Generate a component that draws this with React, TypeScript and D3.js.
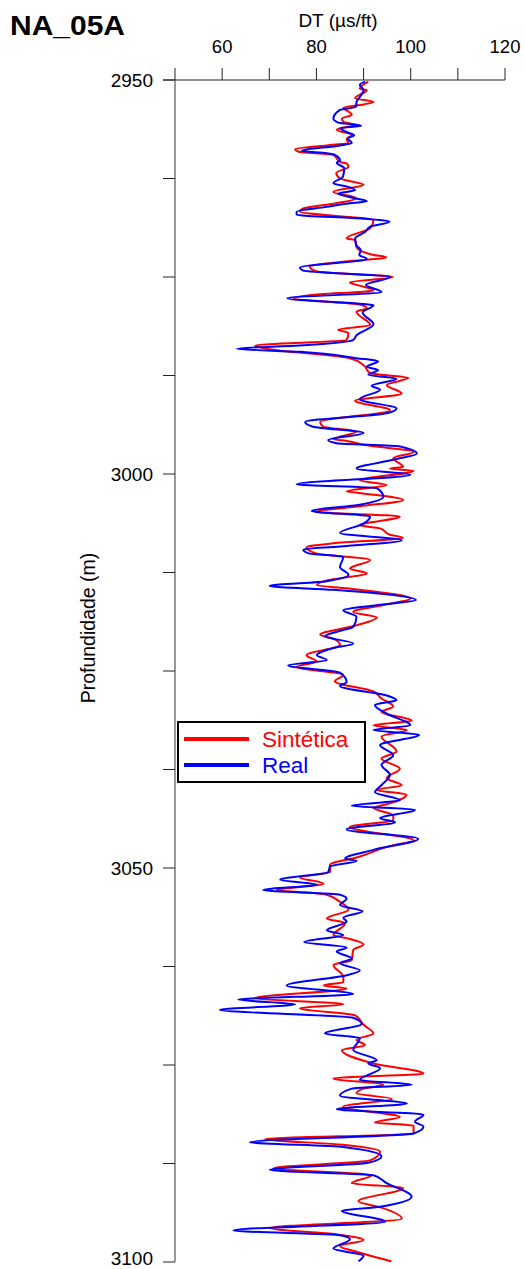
import * as d3 from 'd3';
import React from 'react';

// depth (m) / DT (µs/ft)
const realDepth = [2950.2, 2950.6, 2951.3, 2951.9, 2952.8, 2953.4, 2953.8, 2954.9, 2955.4, 2955.8, 2956.1, 2956.6, 2957.0, 2957.4, 2958.0, 2958.3, 2959.0, 2959.3, 2959.5, 2960.2, 2960.5, 2961.2, 2962.3, 2963.1, 2963.5, 2964.0, 2964.4, 2965.0, 2965.4, 2965.7, 2966.1, 2966.7, 2967.1, 2967.6, 2968.0, 2968.6, 2969.3, 2970.1, 2971.0, 2971.6, 2972.2, 2972.7, 2973.8, 2974.2, 2975.0, 2976.0, 2976.9, 2977.7, 2978.5, 2978.6, 2979.5,
  2981.0, 2982.4, 2983.0, 2983.7, 2984.1, 2984.5, 2985.3, 2985.7, 2986.4, 2986.8, 2987.4, 2987.9, 2988.8, 2989.3, 2990.5, 2991.7, 2992.3, 2993.4, 2994.0, 2994.8, 2995.7, 2996.1, 2996.5, 2997.4, 2998.2, 2999.3, 3000.1, 3001.3, 3001.8, 3002.9, 3003.9, 3004.7, 3005.4, 3006.3, 3007.5, 3008.4, 3009.2, 3009.6, 3010.1,
  3010.5, 3011.8, 3012.8, 3013.6, 3014.2, 3014.7, 3015.1, 3016.0, 3016.6, 3017.3, 3018.1, 3019.4, 3019.8, 3020.6, 3021.5, 3022.1, 3023.0, 3023.6, 3024.3, 3025.2, 3026.4, 3026.9, 3028.1, 3028.7, 3029.3, 3030.4, 3031.9, 3032.5, 3033.1, 3034.4, 3035.7, 3036.9, 3038.2, 3039.5, 3040.4,
  3041.4, 3042.1, 3042.6, 3043.7, 3044.2, 3045.1, 3046.3, 3047.7, 3048.8, 3049.1, 3049.8, 3050.5, 3051.5, 3052.1, 3052.8, 3053.4, 3053.9, 3054.7, 3055.5, 3056.3, 3056.8, 3057.9, 3058.5, 3059.4, 3060.1, 3060.6, 3061.5, 3062.1, 3063.0, 3063.6, 3064.9, 3066.0, 3066.7, 3067.3, 3068.0, 3069.0, 3069.8, 3071.0,
  3071.6, 3073.1, 3074.4, 3074.8, 3075.4, 3076.9, 3077.5, 3078.0, 3078.9, 3079.9, 3080.6, 3081.3, 3082.2, 3082.8, 3083.7, 3084.8, 3085.4, 3086.6, 3087.4, 3088.3, 3089.0, 3090.0, 3091.7, 3093.0, 3093.5, 3094.9, 3096.0, 3096.6, 3097.1, 3098.3, 3099.2, 3099.9];
const realDT = [90.3, 89.2, 90.0, 89.5, 88.5, 88.4, 85.0, 83.6, 84.6, 89.5, 85.0, 86.4, 88.0, 86.6, 87.5, 85.0, 76.9, 82.2, 83.9, 85.0, 84.3, 85.9, 85.6, 83.6, 86.4, 88.2, 84.6, 88.2, 90.7, 86.4, 82.2, 75.8, 75.8, 90.0, 95.5, 91.4, 90.3, 88.2, 88.5, 89.4, 89.1, 90.7, 76.5, 77.2, 95.6, 90.5, 93.8, 73.8, 91.0, 92.1, 89.8,
  92.1, 88.5, 87.8, 76.5, 63.1, 76.5, 88.5, 93.1, 90.7, 93.1, 91.0, 97.0, 91.7, 93.5, 89.2, 97.0, 94.9, 77.6, 79.3, 90.0, 82.5, 84.3, 97.7, 101.3, 96.3, 88.5, 99.9, 75.8, 92.8, 94.2, 89.2, 79.0, 91.4, 90.0, 85.0, 98.1, 85.0, 77.2, 78.6,
  85.7, 85.0, 86.8, 82.2, 70.1, 83.6, 92.1, 101.1, 93.5, 85.7, 88.5, 87.8, 85.7, 81.8, 87.8, 83.6, 80.1, 82.2, 74.0, 85.0, 86.4, 85.0, 94.9, 97.0, 92.4, 94.9, 99.9, 92.1, 101.8, 93.5, 96.3, 93.8, 95.6, 93.8, 92.4,
  97.7, 87.5, 100.9, 93.5, 96.7, 86.4, 101.6, 92.1, 86.1, 88.5, 82.9, 82.5, 72.3, 80.1, 68.7, 85.0, 86.4, 85.0, 89.8, 85.7, 86.4, 82.2, 85.7, 77.4, 86.4, 84.3, 87.5, 85.0, 89.2, 86.4, 73.7, 87.8, 63.4, 75.5, 59.5, 87.8, 89.6, 81.8,
  89.2, 87.8, 92.8, 91.0, 93.5, 89.2, 100.2, 87.5, 85.0, 99.2, 84.3, 102.7, 100.9, 102.7, 100.6, 65.9, 85.7, 93.8, 91.0, 70.1, 92.1, 94.9, 100.2, 93.5, 85.4, 94.6, 62.4, 85.0, 87.1, 83.6, 90.0, 88.9];

const sintDepth = [2950.2, 2951.1, 2951.3, 2952.3, 2952.8, 2953.1, 2953.5, 2954.4, 2954.9, 2955.3, 2955.7, 2956.3, 2957.0, 2957.5, 2958.0, 2958.3, 2958.8, 2959.1, 2959.5, 2960.4, 2960.6, 2961.0, 2961.8, 2962.5, 2963.3, 2964.2, 2965.0, 2965.7, 2966.3, 2966.7, 2967.8, 2968.8, 2970.1, 2970.3, 2971.2, 2972.2, 2972.5, 2973.1, 2973.7, 2974.3, 2975.0, 2975.7, 2976.0, 2976.7, 2977.3, 2977.7, 2978.5, 2979.0, 2979.4,
  2981.1, 2981.7, 2982.1, 2983.0, 2983.7, 2984.1, 2985.3, 2986.2, 2987.2, 2987.8, 2988.7, 2989.8, 2990.7, 2991.9, 2993.4, 2994.0, 2994.6, 2995.6, 2995.8, 2996.3, 2997.2, 2998.0, 2999.1, 2999.3, 2999.6, 3000.8, 3001.4, 3002.2, 3002.4, 3003.3, 3004.1, 3004.8, 3005.4, 3006.5, 3006.9, 3007.7, 3008.1, 3008.8, 3009.3, 3010.1,
  3010.9, 3012.0, 3012.6, 3013.5, 3014.1, 3014.5, 3015.8, 3016.6, 3017.5, 3018.2, 3019.2, 3020.4, 3020.9, 3021.7, 3023.0, 3023.8, 3024.5, 3025.5, 3026.3, 3027.6, 3028.5, 3029.5, 3030.2, 3031.3, 3031.9, 3032.5, 3033.3, 3035.2, 3036.1, 3037.4, 3038.6, 3039.5, 3040.1,
  3040.7, 3041.8, 3042.4, 3043.3, 3043.9, 3044.8, 3046.5, 3047.1, 3048.6, 3049.6, 3050.5, 3051.2, 3052.0, 3052.8, 3053.3, 3054.3, 3055.3, 3056.4, 3057.0, 3058.5, 3058.9, 3059.7, 3060.4, 3061.7, 3062.3, 3063.8, 3064.5, 3064.9, 3065.3, 3066.5, 3067.3, 3067.8, 3068.7, 3069.9, 3071.0,
  3071.8, 3072.5, 3073.1, 3074.8, 3076.1, 3076.7, 3077.5, 3078.0, 3078.6, 3079.3, 3080.3, 3081.6, 3082.3, 3082.7, 3083.7, 3084.4, 3085.1, 3086.0, 3087.1, 3088.1, 3089.0, 3090.0, 3090.6, 3092.3, 3093.1, 3094.5, 3095.7, 3096.5, 3097.2, 3098.0, 3098.7, 3099.9];
const sintDT = [91.0, 89.2, 90.7, 88.2, 92.1, 90.0, 85.7, 87.5, 85.4, 85.7, 88.2, 84.3, 87.5, 86.4, 86.8, 82.2, 75.5, 76.2, 83.6, 85.0, 86.4, 86.8, 84.2, 85.0, 90.0, 83.6, 88.5, 83.6, 77.2, 76.5, 92.1, 91.4, 86.4, 88.2, 88.5, 92.1, 94.8, 85.0, 78.6, 80.1, 96.2, 87.1, 88.5, 92.1, 78.6, 75.2, 89.2, 90.7, 88.5,
  91.4, 84.6, 86.8, 86.4, 67.0, 69.4, 87.1, 90.0, 91.4, 99.5, 94.9, 98.1, 88.2, 95.6, 80.8, 81.5, 88.5, 83.6, 86.4, 90.0, 100.6, 96.3, 98.4, 95.6, 100.6, 89.2, 94.9, 86.4, 88.9, 98.4, 89.2, 80.1, 97.7, 89.2, 93.5, 95.6, 98.4, 83.6, 77.9, 80.1,
  91.4, 87.1, 90.7, 82.2, 80.1, 86.4, 99.9, 94.5, 87.8, 92.8, 88.5, 80.8, 83.6, 85.0, 77.9, 80.1, 75.8, 85.7, 83.9, 92.1, 93.8, 96.3, 93.8, 100.2, 92.1, 99.2, 93.8, 97.0, 93.8, 97.7, 94.9, 98.1, 92.8,
  99.1, 95.6, 92.1, 96.3, 96.3, 87.1, 100.6, 96.3, 88.9, 82.9, 82.9, 76.5, 81.5, 71.6, 81.5, 85.0, 86.8, 82.2, 86.1, 83.6, 86.4, 90.0, 87.8, 87.5, 83.6, 85.7, 85.7, 81.5, 86.4, 67.0, 85.7, 76.5, 88.2, 90.0, 92.1,
  88.5, 90.3, 85.4, 92.1, 102.7, 83.6, 94.2, 90.0, 88.5, 96.0, 85.7, 97.7, 92.4, 100.6, 100.6, 69.1, 85.0, 93.5, 91.4, 70.9, 91.7, 87.5, 98.4, 88.9, 93.8, 98.1, 70.2, 84.3, 90.0, 85.0, 88.5, 95.9];

const dtTicks = [50, 60, 70, 80, 90, 100, 110, 120];
const dtLabels = [60, 80, 100, 120];
const depthTicks = [2950, 2962.5, 2975, 2987.5, 3000, 3012.5, 3025, 3037.5, 3050, 3062.5, 3075, 3087.5, 3100];
const depthLabels = [2950, 3000, 3050, 3100];

const W = 525;
const H = 1269;
const FONT = 'Arial, "Liberation Sans", Helvetica, sans-serif';

export default function App() {
  const x = d3.scaleLinear().domain([50, 120]).range([175, 505]);
  const y = d3.scaleLinear().domain([2950, 3100]).range([80, 1262]);

  const line = d3.line<[number, number]>()
    .x((d) => x(d[1]))
    .y((d) => y(d[0]))
    .curve(d3.curveMonotoneY);

  const realPts = realDepth.map((d, i) => [d, realDT[i]] as [number, number]);
  const sintPts = sintDepth.map((d, i) => [d, sintDT[i]] as [number, number]);

  return (
    <svg width={W} height={H} style={{ position: 'absolute', left: 0, top: 0, background: '#fff' }}
      fontFamily={FONT}>
      <text x={10} y={35} fontSize={28} fontWeight="bold" textLength={115} lengthAdjust="spacingAndGlyphs">NA_05A</text>
      <text x={338} y={27} fontSize={19} textAnchor="middle">DT (µs/ft)</text>

      {/* top axis */}
      <line x1={163} x2={x(120)} y1={y(2950)} y2={y(2950)} stroke="#222" strokeWidth={1} />
      {dtTicks.map((t) => (
        <line key={'xt' + t} x1={x(t)} x2={x(t)} y1={y(2950) - 12} y2={y(2950)} stroke="#222" strokeWidth={1} />
      ))}
      {dtLabels.map((t) => (
        <text key={'xl' + t} x={x(t)} y={53} fontSize={18.5} textAnchor="middle">{t}</text>
      ))}

      {/* left axis */}
      <line x1={x(50)} x2={x(50)} y1={y(2950)} y2={y(3100)} stroke="#555" strokeWidth={1.2} />
      {depthTicks.map((t) => (
        <line key={'yt' + t} x1={163} x2={x(50)} y1={y(t)} y2={y(t)} stroke="#222" strokeWidth={1} />
      ))}
      {depthLabels.map((t) => (
        <text key={'yl' + t} x={153} y={Math.min(y(t) + 6.5, 1265)} fontSize={19} textAnchor="end">{t}</text>
      ))}
      <text transform={`translate(95,${628}) rotate(-90)`} fontSize={19.5} textAnchor="middle">Profundidade (m)</text>

      {/* curves */}
      <path d={line(sintPts) || ''} fill="none" stroke="#ff0000" strokeWidth={2} strokeLinejoin="round" />
      <path d={line(realPts) || ''} fill="none" stroke="#0000ff" strokeWidth={2} strokeLinejoin="round" />

      {/* legend */}
      <rect x={178} y={722} width={187} height={60} fill="#fff" stroke="#000" strokeWidth={2} />
      <line x1={184} x2={249} y1={739} y2={739} stroke="#ff0000" strokeWidth={4} />
      <text x={262} y={747} fontSize={22.5} fill="#ff0000">Sintética</text>
      <line x1={184} x2={249} y1={765} y2={765} stroke="#0000ff" strokeWidth={4} />
      <text x={262} y={773} fontSize={22.5} fill="#0000ff">Real</text>
    </svg>
  );
}
